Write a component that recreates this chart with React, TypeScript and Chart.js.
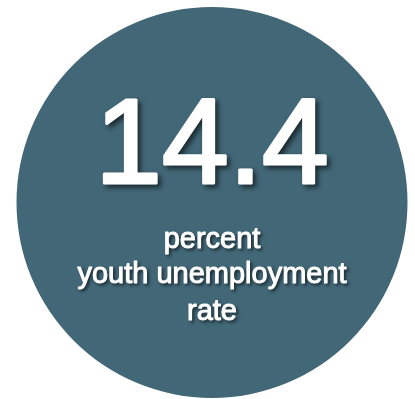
import React, { useEffect, useRef } from "react";
import { Chart, registerables } from "chart.js";

Chart.register(...registerables);

const categories = ["youth unemployment rate"];
const values = [14.4];
const bigLabel = ["14.4"];
const captionLines = ["percent", "youth unemployment", "rate"];

function drawGroup(
  ctx: CanvasRenderingContext2D,
  w: number,
  h: number,
  items: { text: string; x: number; y: number }[],
  font: string,
  lineWidth: number,
  shadow: { ox: number; oy: number; blur: number; color: string }
) {
  const off = document.createElement("canvas");
  off.width = w;
  off.height = h;
  const o = off.getContext("2d")!;
  o.fillStyle = "#ffffff";
  o.strokeStyle = "#ffffff";
  o.lineWidth = lineWidth;
  o.lineJoin = "round";
  o.textAlign = "center";
  o.textBaseline = "alphabetic";
  o.font = font;
  items.forEach((it) => {
    o.fillText(it.text, it.x, it.y);
    if (lineWidth > 0) o.strokeText(it.text, it.x, it.y);
  });
  ctx.save();
  ctx.setTransform(1, 0, 0, 1, 0, 0);
  ctx.shadowColor = shadow.color;
  ctx.shadowOffsetX = shadow.ox;
  ctx.shadowOffsetY = shadow.oy;
  ctx.shadowBlur = shadow.blur;
  ctx.drawImage(off, 0, 0);
  ctx.restore();
}

const textPlugin = {
  id: "centerText",
  afterDraw(chart: any) {
    const { ctx, chartArea, canvas } = chart;
    const cx = (chartArea.left + chartArea.right) / 2;
    const cy = (chartArea.top + chartArea.bottom) / 2;
    drawGroup(
      ctx,
      canvas.width,
      canvas.height,
      [{ text: bigLabel[0], x: cx, y: cy - 19.5 }],
      '120px "Liberation Sans", Arial, sans-serif',
      3,
      { ox: 3, oy: 3, blur: 5, color: "rgba(0,0,0,0.6)" }
    );
    const baselines = [45.5, 80.5, 117.5];
    drawGroup(
      ctx,
      canvas.width,
      canvas.height,
      captionLines.map((t, i) => ({ text: t, x: cx, y: cy + baselines[i] })),
      '29px "Liberation Sans", Arial, sans-serif',
      1,
      { ox: 2, oy: 2, blur: 3, color: "rgba(0,0,0,0.55)" }
    );
  },
};

export default function App() {
  const ref = useRef<HTMLCanvasElement>(null);
  useEffect(() => {
    document.body.style.margin = "0";
    const chart = new Chart(ref.current!, {
      type: "pie",
      data: {
        labels: categories,
        datasets: [
          {
            data: values,
            backgroundColor: ["#426777"],
            borderWidth: 0,
          },
        ],
      },
      options: {
        responsive: false,
        animation: false,
        layout: { padding: { top: 7, bottom: 1, left: 16, right: 7 } },
        plugins: {
          legend: { display: false },
          tooltip: { enabled: false },
        },
      },
      plugins: [textPlugin],
    });
    return () => chart.destroy();
  }, []);
  return (
    <div style={{ width: 415, height: 399 }}>
      <canvas ref={ref} width={415} height={399} style={{ display: "block" }} />
    </div>
  );
}
